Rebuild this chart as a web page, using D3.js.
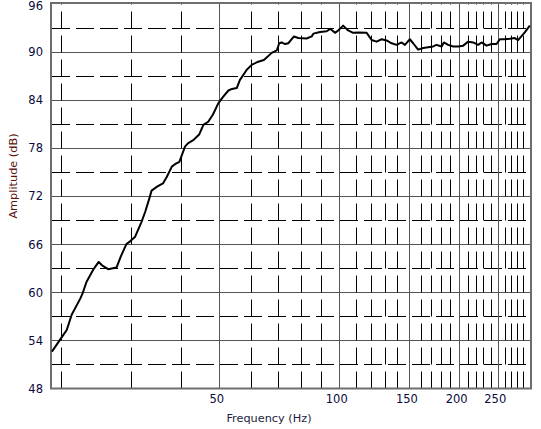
<!DOCTYPE html>
<html>
<head>
<meta charset="utf-8">
<script src="https://cdn.jsdelivr.net/npm/d3@7"></script>
<style>
  html, body { margin: 0; padding: 0; background: #fff; }
  svg { display: block; }
  text { font-family: "DejaVu Sans", Verdana, sans-serif; }
</style>
</head>
<body>
<script>
// ---- data ----
const freqHz = [19.0, 20.3, 20.7, 21.3, 22.4, 22.7, 23.2, 24.1, 24.9, 25.5, 26.3, 27.6, 28.3, 29.2, 29.9, 30.7, 31.9, 32.6, 33.4, 33.8,
  34.9, 36.1, 36.9, 38.0, 38.7, 39.7, 41.0, 41.7, 43.0, 44.5, 45.6, 46.9, 48.2, 49.7, 51.1, 52.7, 53.8, 55.3, 56.3, 58.6,
  60.3, 62.6, 64.7, 67.7, 69.7, 70.7, 71.7, 73.1, 74.5, 77.0, 78.9, 82.8, 85.3, 86.1, 89.5, 93.0, 94.9, 96.6, 97.6, 99.4,
  102.3, 105.3, 108.4, 111.6, 117.2, 120.6, 124.1, 127.8, 131.5, 135.4, 139.3, 143.4, 146.2, 150.4, 153.3, 157.8, 162.5, 167.2, 172.1, 175.5,
  180.7, 183.1, 187.7, 193.2, 198.9, 204.7, 210.7, 216.9, 223.2, 227.7, 234.3, 241.2, 248.3, 253.0, 260.5, 268.1, 275.9, 281.2, 286.9, 292.3, 300.9];
const amplitudeDb = [52.6, 54.7, 55.3, 57.2, 59.25, 59.9, 61.3, 62.8, 63.8, 63.3, 62.9, 63.1, 64.5, 66.0, 66.4, 66.9, 68.8, 70.1, 71.8, 72.7,
  73.2, 73.6, 74.4, 75.7, 76.0, 76.3, 78.2, 78.6, 79.0, 79.7, 80.9, 81.3, 82.2, 83.6, 84.4, 85.2, 85.4, 85.5, 86.5, 87.8,
  88.4, 88.8, 89.0, 89.9, 90.2, 91.1, 91.2, 91.0, 91.1, 91.95, 91.75, 91.7, 91.95, 92.3, 92.5, 92.6, 92.9, 92.6, 92.4, 92.7,
  93.3, 92.7, 92.4, 92.45, 92.4, 91.5, 91.3, 91.6, 91.45, 91.1, 90.9, 91.2, 90.9, 91.6, 91.1, 90.3, 90.5, 90.6, 90.7, 90.9,
  90.7, 91.2, 90.9, 90.7, 90.7, 90.8, 91.3, 91.2, 90.9, 91.2, 90.8, 91.0, 91.0, 91.6, 91.6, 91.65, 91.75, 91.5, 92.0, 92.45, 93.3];
const xDomain = [18.9, 303];
const yDomain = [48, 96];
const xMajorTicks = [50, 100, 150, 200, 250];
const xMinorTicks = [20, 30, 40, 60, 70, 80, 90, 110, 120, 130, 140, 160, 170, 180, 190, 210, 220, 230, 240, 260, 270, 280, 290];
const yMajorTicks = [48, 54, 60, 66, 72, 78, 84, 90, 96];
const yMinorTicks = [51, 57, 63, 69, 75, 81, 87, 93];
const xTitle = "Frequency (Hz)";
const yTitle = "Amplitude (dB)";

// ---- layout ----
const W = 541, H = 429;
const L = 51, R = 531, T = 4, B = 388.5;

const svg = d3.select("body").append("svg").attr("width", W).attr("height", H);

const x = d3.scaleLog().domain(xDomain).range([L, R]);
const y = d3.scaleLinear().domain(yDomain).range([B, T]);

const grid = svg.append("g");

// horizontal solid lines
grid.selectAll("line.hmaj").data(yMajorTicks.filter(v => v > yDomain[0] && v < yDomain[1])).join("line")
  .attr("x1", L).attr("x2", R)
  .attr("y1", d => Math.round(y(d)) + 0.5).attr("y2", d => Math.round(y(d)) + 0.5)
  .attr("stroke", "#555").attr("stroke-width", 1);

// horizontal dashed lines
grid.selectAll("line.hmin").data(yMinorTicks).join("line")
  .attr("x1", L + 1).attr("x2", R)
  .attr("y1", d => Math.round(y(d)) + 0.5).attr("y2", d => Math.round(y(d)) + 0.5)
  .attr("stroke", "#000").attr("stroke-width", 1)
  .attr("stroke-dasharray", "18,6");

// vertical solid lines
grid.selectAll("line.vmaj").data(xMajorTicks).join("line")
  .attr("x1", d => Math.round(x(d)) + 0.5).attr("x2", d => Math.round(x(d)) + 0.5)
  .attr("y1", T).attr("y2", B)
  .attr("stroke", "#555").attr("stroke-width", 1);

// vertical dashed lines (drawn from bottom up)
grid.selectAll("line.vmin").data(xMinorTicks).join("line")
  .attr("x1", d => Math.round(x(d)) + 0.5).attr("x2", d => Math.round(x(d)) + 0.5)
  .attr("y1", B).attr("y2", T - 1)
  .attr("stroke", "#000").attr("stroke-width", 1)
  .attr("stroke-dasharray", "17,7");

// border
svg.append("rect")
  .attr("x", L).attr("y", T - 1).attr("width", R - L).attr("height", B - T + 1)
  .attr("fill", "none").attr("stroke", "#6e6e6e").attr("stroke-width", 2);

// curve
const pts = freqHz.map((f, i) => [f, amplitudeDb[i]]);
svg.append("path")
  .datum(pts)
  .attr("fill", "none")
  .attr("stroke", "#000")
  .attr("stroke-width", 2)
  .attr("stroke-linejoin", "round")
  .attr("d", d3.line().x(d => x(d[0])).y(d => y(d[1])));

// y axis labels
const yAxis = d3.axisLeft(y).tickValues(yMajorTicks).tickSize(0).tickPadding(0).tickFormat(d3.format("d"));
const gy = svg.append("g").attr("transform", `translate(${L - 8},0)`).call(yAxis);
gy.select(".domain").remove();
gy.selectAll("text")
  .attr("font-family", "DejaVu Sans, sans-serif")
  .attr("font-size", "11.5px")
  .attr("fill", "#0a0a3c");
// keep the topmost label inside the page
gy.selectAll(".tick").filter(d => d === yDomain[1]).select("text").attr("dy", "0.5em");

// x axis labels
const xAxis = d3.axisBottom(x).tickValues(xMajorTicks).tickSize(0).tickPadding(0).tickFormat(d3.format("d"));
const gx = svg.append("g").attr("transform", `translate(-3,${B + 6})`).call(xAxis);
gx.select(".domain").remove();
gx.selectAll("text")
  .attr("font-family", "DejaVu Sans, sans-serif")
  .attr("font-size", "11.5px")
  .attr("fill", "#0a0a3c");

// titles
svg.append("text")
  .attr("x", 269).attr("y", 422)
  .attr("text-anchor", "middle")
  .attr("font-size", "11.3px")
  .attr("fill", "#1e1e40")
  .text(xTitle);

svg.append("text")
  .attr("transform", "translate(16.5,176) rotate(-90)")
  .attr("text-anchor", "middle")
  .attr("font-size", "11.3px")
  .attr("fill", "#5a1010")
  .text(yTitle);
</script>
</body>
</html>
